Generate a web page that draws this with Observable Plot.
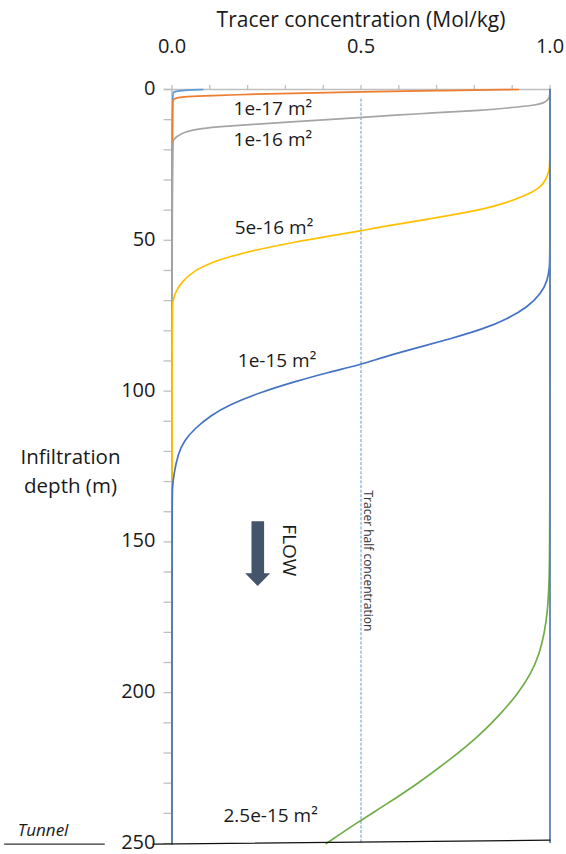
<!DOCTYPE html>
<html>
<head>
<meta charset="utf-8">
<script src="https://cdn.jsdelivr.net/npm/d3@7"></script>
<script src="https://cdn.jsdelivr.net/npm/@observablehq/plot@0.6"></script>
<style>
  body { margin: 0; background: #fff; }
  #chart svg { display: block; }
</style>
</head>
<body>
<div id="chart"></div>
<script>
// Tracer concentration profiles: [concentration (Mol/kg), infiltration depth (m)]
const profileP0 = [[0.082, 0], [0.04, 0.2], [0.012, 0.5], [0.003, 0.9], [0, 1.3], [0, 250]];
const profileP1 = [[0.917, 0], [0.7, 0.4], [0.5, 0.8], [0.3, 1.3], [0.21, 1.6], [0.1, 2.0],
  [0.033, 2.4], [0.015, 2.7], [0.007, 3.0], [0.002, 3.5], [0, 4.1], [0, 250]];
const profileP2 = [[1, 0], [1, 2.5], [0.99, 4.3], [0.96, 5.2], [0.915, 5.8], [0.826, 6.9],
  [0.651, 8.0], [0.5, 9.3], [0.313, 10.8], [0.21, 11.6], [0.137, 12.2], [0.077, 12.9],
  [0.033, 14.0], [0.011, 15.7], [0.003, 16.8], [0, 17.9], [0, 250]];
const profileP3 = [[1, 0], [1, 24.5], [0.998, 26.8], [0.989, 30.1], [0.972, 32.8], [0.932, 35.3],
  [0.879, 37.8], [0.826, 39.6], [0.738, 41.7], [0.65, 43.6], [0.562, 45.3], [0.498, 46.9],
  [0.412, 48.7], [0.324, 50.6], [0.236, 52.8], [0.148, 55.5], [0.104, 57.4], [0.06, 59.9],
  [0.025, 63.8], [0.007, 67.7], [0.002, 70.5], [0, 73.2], [0, 250]];
const profileP4 = [[1, 0], [1, 55], [0.999, 58.5], [0.994, 63.3], [0.976, 67.7], [0.941, 72.1],
  [0.888, 76.0], [0.826, 79.3], [0.738, 82.6], [0.65, 85.6], [0.562, 88.6], [0.498, 91.3],
  [0.412, 93.8], [0.324, 96.9], [0.236, 100.3], [0.148, 104.7], [0.104, 108.0], [0.06, 112.4],
  [0.033, 116.3], [0.016, 120.7], [0.005, 127.4], [0.001, 132], [0, 136.2], [0, 250]];
const profileP5 = [[1, 0], [1, 150], [0.998, 162.7], [0.994, 172.7], [0.985, 180.4], [0.972, 187.1],
  [0.95, 193.7], [0.915, 200.3], [0.87, 207.0], [0.809, 214.7], [0.738, 221.9], [0.65, 230.2],
  [0.562, 237.4], [0.492, 242.9], [0.408, 250]];

const profiles = [profileP0, profileP1, profileP2, profileP3, profileP4, profileP5];
const permeabilityLabels = [null, "1e-17 m²", "1e-16 m²", "5e-16 m²", "1e-15 m²", "2.5e-15 m²"];
const halfConcentration = 0.5;

// Axis ticks
const xMinorTicks = [0, 0.1, 0.2, 0.3, 0.4, 0.5, 0.6, 0.7, 0.8, 0.9, 1.0];
const xTickLabels = [0, 0.5, 1.0];
const yMinorTicks = d3.range(0, 251, 10);
const yTickLabels = [0, 50, 100, 150, 200, 250];

// Styling
const seriesColors = ["#5b9bd5", "#ed7d31", "#a5a5a5", "#ffc000", "#4472c4", "#70ad47"];
const axisGray = "#bfbfbf";
const textColor = "#1a1a1a";
const font = "'Open Sans', sans-serif";

// Where each permeability label sits (concentration, depth)
const labelAnchors = [null, [0.163, 6.4], [0.163, 16.6], [0.166, 46.0], [0.174, 90.0], [0.136, 240.8]];

// Block arrow showing flow direction
const flowArrow = [
  {d: 143.3, l: 0.2116, r: 0.2450},
  {d: 160.6, l: 0.2116, r: 0.2450},
  {d: 160.6, l: 0.1950, r: 0.2610},
  {d: 164.8, l: 0.2280, r: 0.2280}
];

const curveMarks = profiles.map((p, i) =>
  Plot.line(p, {x: d => d[0], y: d => d[1], stroke: seriesColors[i], strokeWidth: 1.7, curve: "basis"})
);

const labelData = permeabilityLabels
  .map((t, i) => t && {text: t, x: labelAnchors[i][0], y: labelAnchors[i][1]})
  .filter(Boolean);

const chart = Plot.plot({
  width: 566,
  height: 854,
  marginTop: 89,
  marginBottom: 11,
  marginLeft: 171.5,
  marginRight: 16.5,
  style: {fontFamily: font, color: textColor, background: "#fff"},
  x: {domain: [0, 1], axis: null},
  y: {domain: [0, 250], reverse: true, axis: null},
  marks: [
    // axis lines and ticks
    Plot.ruleY([0], {stroke: axisGray, strokeWidth: 1.5, x1: -0.02, x2: 1}),
    Plot.ruleX([0], {stroke: axisGray, strokeWidth: 1.5}),
    Plot.axisX(xMinorTicks, {anchor: "top", tickSize: 5, tickFormat: () => "", stroke: axisGray, strokeWidth: 1.3, label: null}),
    Plot.axisY(yMinorTicks, {anchor: "left", tickSize: 8, tickFormat: () => "", stroke: axisGray, strokeWidth: 1.3, label: null}),
    Plot.text(xTickLabels, {x: d => d, frameAnchor: "top", lineAnchor: "middle", dy: -43, text: d => d.toFixed(1), fontSize: 20, fill: textColor}),
    Plot.text(yTickLabels, {y: d => d, frameAnchor: "left", dx: -16.5, dy: -1, textAnchor: "end", text: d => String(d), fontSize: 20, fill: textColor}),
    Plot.text(["Tracer concentration (Mol/kg)"], {x: 0.5, frameAnchor: "top", lineAnchor: "middle", dy: -69, fontSize: 21, fill: textColor}),
    Plot.text(["Infiltration\ndepth (m)"], {y: 126, frameAnchor: "left", dx: -101.5, textAnchor: "middle", lineHeight: 1.42, fontSize: 20.5, fill: textColor}),

    // half-concentration reference
    Plot.ruleX([halfConcentration], {y1: 3.2, y2: 250, stroke: "#5b9bd5", strokeWidth: 1, strokeDasharray: "3,1.6"}),
    Plot.text(["Tracer half concentration"], {x: halfConcentration, y: 156.3, dx: 6.5, rotate: 90, fontSize: 12, fill: "#333"}),

    // concentration profiles
    ...curveMarks,
    Plot.ruleX([1], {stroke: "#5f7fb5", strokeWidth: 1.8}),
    Plot.text(labelData, {x: "x", y: "y", text: "text", textAnchor: "start", fontSize: 19, fill: textColor}),

    // flow direction
    Plot.areaX(flowArrow, {y: "d", x1: "l", x2: "r", fill: "#44546a", curve: "linear"}),
    Plot.text(["FLOW"], {x: 0.311, y: 152.8, rotate: 90, fontSize: 19, fill: textColor}),

    // tunnel level
    Plot.line([[-0.05, 250.2], [1, 248.9]], {stroke: "#111", strokeWidth: 1.2}),
    Plot.line([[-0.443, 250.2], [-0.179, 250.2]], {stroke: "#333", strokeWidth: 1.2}),
    Plot.text(["Tunnel"], {x: -0.341, y: 245.6, fontSize: 17, fontStyle: "italic", fill: textColor})
  ]
});

document.getElementById("chart").appendChild(chart);
</script>
</body>
</html>
